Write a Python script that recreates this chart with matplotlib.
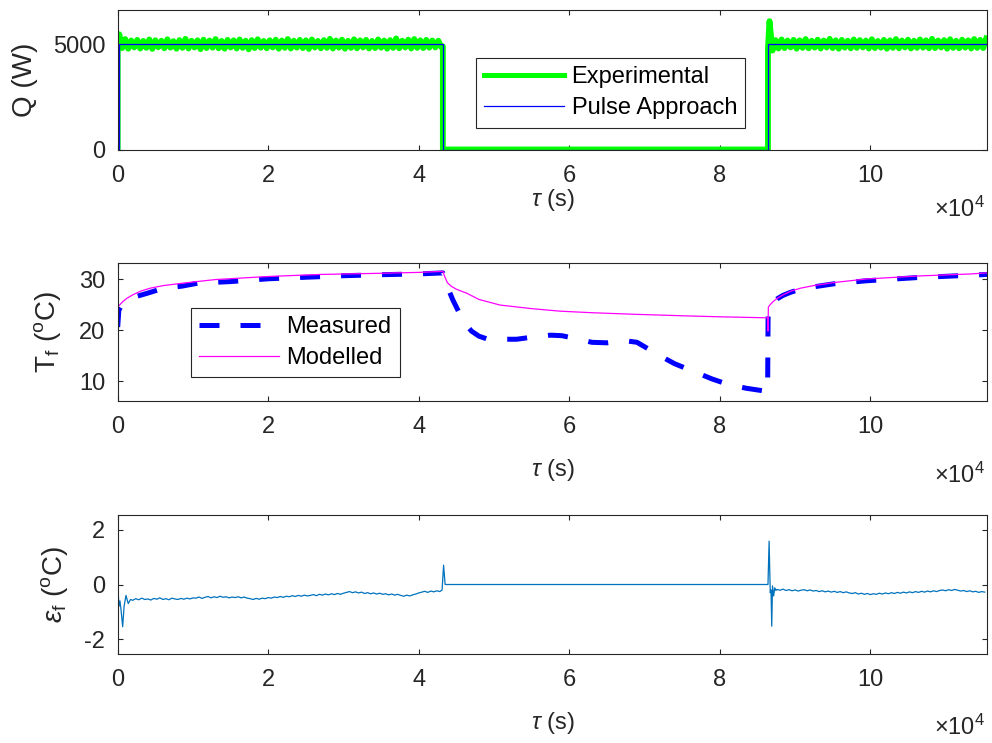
import numpy as np
import matplotlib
matplotlib.use('Agg')
import matplotlib.pyplot as plt

plt.rcParams['font.family'] = ['Liberation Sans', 'DejaVu Sans']
plt.rcParams['mathtext.fontset'] = 'custom'
plt.rcParams['mathtext.rm'] = 'Liberation Sans'
plt.rcParams['mathtext.it'] = 'Liberation Sans:italic'
plt.rcParams['mathtext.fallback'] = 'stixsans'
plt.rcParams['axes.unicode_minus'] = False

# ---------------- DATA ----------------
# Heat rate Q (W): experimental (noisy), pulse approach (ideal)
q_on1_t = np.arange(200, 43001, 400)
q_on1 = [5480, 4820, 5250, 4790, 5180, 4850, 5210, 4800, 5160, 4830,
         5230, 4780, 5190, 4860, 5170, 4810, 5240, 4840, 5150, 4790,
         5200, 4830, 5260, 4800, 5170, 4850, 5190, 4770, 5220, 4820,
         5180, 4840, 5250, 4810, 5160, 4790, 5210, 4850, 5190, 4800,
         5230, 4830, 5170, 4760, 5200, 4820, 5240, 4840, 5160, 4810,
         5190, 4850, 5220, 4790, 5180, 4830, 5250, 4800, 5170, 4840,
         5210, 4820, 5190, 4780, 5230, 4850, 5160, 4810, 5200, 4830,
         5260, 4800, 5180, 4840, 5220, 4790, 5170, 4830, 5240, 4810,
         5190, 4850, 5210, 4800, 5160, 4820, 5230, 4840, 5180, 4790,
         5200, 4830, 5280, 4810, 5170, 4850, 5220, 4800, 5250, 4830,
         5190, 4820, 5210, 4840, 5180, 4850, 5170, 4860]
q_on2_t = np.arange(86600, 115401, 400)
q_on2 = [6100, 4700, 5200, 4800, 5230, 4820, 5180, 4850, 5210, 4790,
         5190, 4830, 5250, 4810, 5170, 4840, 5220, 4800, 5180, 4850,
         5260, 4820, 5190, 4790, 5210, 4840, 5170, 4810, 5230, 4830,
         5200, 4850, 5180, 4800, 5240, 4820, 5160, 4840, 5210, 4790,
         5190, 4830, 5250, 4810, 5180, 4850, 5220, 4800, 5170, 4830,
         5230, 4840, 5190, 4810, 5260, 4820, 5180, 4850, 5200, 4790,
         5240, 4830, 5170, 4810, 5220, 4840, 5190, 4800, 5250, 4830,
         5210, 4820, 5280]
q_exp_t = np.concatenate([[0, 0], q_on1_t, [43200, 43200, 86400, 86400], q_on2_t])
q_exp = np.concatenate([[0, 4820], q_on1, [4900, 0, 0, 4800], q_on2])

q_pulse_t = [0, 200, 200, 43200, 43200, 86400, 86400, 115500]
q_pulse = [0, 0, 5000, 5000, 0, 0, 5000, 5000]

# Fluid temperature T_f (ºC)
t_mod = [0, 300, 700, 1200, 2000, 3000, 4300, 6000, 8700, 13000, 20000, 27000,
         34000, 40000, 43200,
         43500, 43800, 44300, 45000, 46400, 48000, 50800, 55000, 58800, 63000,
         68500, 75000, 80000, 86350,
         86400, 86450, 86700, 87100, 87600, 88400, 89400, 90700, 92400, 95100,
         99400, 106400, 113400, 115500]
T_mod = [24.5, 25.0, 25.6, 26.2, 26.9, 27.6, 28.2, 28.7, 29.2, 29.9, 30.5, 30.9,
         31.1, 31.3, 31.5,
         30.3, 29.3, 28.6, 28.0, 27.2, 26.0, 24.9, 24.2, 23.7, 23.4,
         23.1, 22.8, 22.6, 22.4,
         19.8, 24.5, 25.0, 25.6, 26.2, 26.9, 27.6, 28.2, 28.7, 29.3,
         30.0, 30.6, 31.0, 31.2]

t_meas = [0, 150, 400, 1000, 1600, 2500, 3900, 6100, 8500, 10700, 15000, 20000,
          25000, 30000, 35000, 40000, 43200,
          43500, 44000, 44500, 45000, 45500, 46000, 47000, 48000, 49000, 50800,
          53000, 55000, 57500, 59000, 61000, 63000, 65000, 67500, 69000, 72000,
          74000, 76500, 79000, 81000, 83500, 86200, 86350,
          86420, 86700, 87100, 87600, 88400, 89400, 90700, 92400, 95100, 99400,
          106400, 113400, 115500]
T_meas = [20.6, 23.9, 24.5, 25.3, 25.9, 26.6, 27.2, 28.2, 28.6, 29.2, 29.5, 30.05,
          30.35, 30.65, 30.85, 31.0, 31.2,
          29.4, 27.8, 26.0, 24.5, 23.0, 21.6, 19.8, 18.8, 18.3, 18.2,
          18.2, 18.6, 19.0, 18.9, 18.3, 17.6, 17.5, 17.9, 17.6, 15.0,
          13.4, 11.9, 10.4, 9.4, 8.6, 8.0, 7.8,
          24.2, 24.9, 25.5, 26.1, 26.8, 27.4, 28.0, 28.45, 29.05, 29.65,
          30.3, 30.75, 30.9]

# Error eps_f (ºC)
err_t = np.concatenate([
    [0, 170, 300, 450, 660, 850, 1100, 1400, 1700],
    np.arange(2000, 42801, 400),
    [43100, 43300, 43500, 86400, 86550, 86700, 86800, 86900, 87000, 87150, 87300, 87450],
    np.arange(87600, 115401, 400)])
err = np.concatenate([
    [0.0, -0.8, -0.6, -0.95, -1.55, -0.8, -0.4, -0.7, -0.55],
    [-0.58, -0.52, -0.56, -0.50, -0.55, -0.53, -0.57, -0.51, -0.54, -0.49, -0.55,
     -0.52, -0.56, -0.50, -0.53, -0.55, -0.51, -0.54, -0.50, -0.53, -0.49,
     -0.50, -0.46, -0.51, -0.47, -0.44, -0.49, -0.45, -0.48, -0.43, -0.47, -0.45,
     -0.49, -0.46,
     -0.48, -0.45, -0.49, -0.46, -0.50, -0.52, -0.55, -0.51, -0.54, -0.50, -0.52, -0.48,
     -0.50, -0.46, -0.48, -0.44, -0.47, -0.43, -0.45, -0.41, -0.44, -0.40, -0.43,
     -0.39, -0.42,
     -0.40, -0.37, -0.41, -0.36, -0.39, -0.35, -0.38, -0.34, -0.37, -0.33, -0.36, -0.32,
     -0.29, -0.26, -0.30, -0.27, -0.31, -0.28, -0.33, -0.30, -0.34, -0.31, -0.35,
     -0.32, -0.36,
     -0.34, -0.38, -0.35, -0.39, -0.36, -0.40, -0.43, -0.39, -0.42, -0.38, -0.35, -0.31,
     -0.28, -0.25, -0.29, -0.24, -0.27, -0.23, -0.26],
    [-0.2, 0.71, 0.0, 0.0, 1.59, -0.3, -0.2, -1.53, -0.05, -0.42, -0.12, -0.22],
    [-0.18, -0.21, -0.17, -0.22, -0.19, -0.23, -0.20, -0.24, -0.21, -0.19, -0.23,
     -0.20, -0.24, -0.22, -0.26, -0.23, -0.27, -0.24, -0.28, -0.25, -0.29, -0.26,
     -0.30, -0.27, -0.31, -0.33, -0.30, -0.35, -0.32, -0.36, -0.33, -0.37, -0.34,
     -0.36, -0.32, -0.35, -0.31, -0.34, -0.30, -0.33, -0.29, -0.32, -0.28, -0.31,
     -0.27, -0.30, -0.26, -0.29, -0.25, -0.28, -0.24, -0.27, -0.23, -0.26, -0.22,
     -0.20, -0.23, -0.19, -0.22, -0.18, -0.21, -0.24, -0.22, -0.26, -0.23, -0.27,
     -0.25, -0.29, -0.26, -0.28]])

x_ticks = [0, 20000, 40000, 60000, 80000, 100000]
x_ticklabels = ['0', '2', '4', '6', '8', '10']

# ---------------- FIGURE ----------------
W, H = 992, 743
fig = plt.figure(figsize=(W / 100, H / 100), dpi=100)


def axpos(l, t, r, b):
    return [l / W, 1 - b / H, (r - l) / W, (b - t) / H]


ax1 = fig.add_axes(axpos(117.7, 10, 987, 149.5))
ax2 = fig.add_axes(axpos(117.7, 262.7, 987, 401))
ax3 = fig.add_axes(axpos(117.7, 515, 987, 654))

FS = 17
YFS = 20
AXC = '#262626'

for ax in (ax1, ax2, ax3):
    for s in ax.spines.values():
        s.set_color(AXC)
        s.set_linewidth(0.8)
    ax.tick_params(direction='in', length=3.8, width=0.8, top=True, right=True,
                   labelsize=FS, colors=AXC)
    ax.tick_params(axis='x', pad=11)
    ax.tick_params(axis='y', pad=9)
    ax.set_xlim(0, 115500)
    ax.set_xticks(x_ticks)
    ax.set_xticklabels(x_ticklabels)
    ax.set_xlabel(r'$\tau$ (s)', fontsize=FS, color=AXC)

# Top panel
ax1.plot(q_exp_t, q_exp, color='#00FF00', lw=4.2, label='Experimental', solid_joinstyle='round')
ax1.plot(q_pulse_t, q_pulse, color='#0000FF', lw=0.9, label='Pulse Approach')
ax1.set_ylim(0, 6630)
ax1.set_yticks([0, 5000])
ax1.set_ylabel('Q (W)', fontsize=YFS, color=AXC)
leg1 = ax1.legend(loc='center', bbox_to_anchor=(0.567, 0.408), fontsize=FS,
                  fancybox=False, edgecolor=AXC, framealpha=1, handlelength=3.4,
                  handletextpad=0.3, borderpad=0.35, labelspacing=0.4)
leg1.get_frame().set_linewidth(0.8)
leg1.get_lines()[0].set_linewidth(3.6)

# Middle panel
ax2.plot(t_meas, T_meas, color='#0000FF', lw=3.6, dashes=(4, 4.2), label='Measured')
ax2.plot(t_mod, T_mod, color='#FF00FF', lw=0.9, label='Modelled')
ax2.set_ylim(6.1, 33.2)
ax2.set_yticks([10, 20, 30])
ax2.set_ylabel(r'T$_{\mathrm{f}}$ ($^{\mathrm{o}}$C)', fontsize=YFS, color=AXC)
leg2 = ax2.legend(loc='center', bbox_to_anchor=(0.204, 0.423), fontsize=FS,
                  fancybox=False, edgecolor=AXC, framealpha=1, handlelength=3.4,
                  handletextpad=0.3, borderpad=0.35, labelspacing=0.4)
leg2.get_frame().set_linewidth(0.8)

# Bottom panel
ax3.plot(err_t, err, color='#0072BD', lw=0.9)
ax3.set_ylim(-2.55, 2.55)
ax3.set_yticks([-2, 0, 2])
ax3.set_ylabel(r'$\epsilon_{\mathrm{f}}$ ($^{\mathrm{o}}$C)', fontsize=YFS, color=AXC)

# label positions
ax1.yaxis.set_label_coords(-0.0913, 0.5)
ax2.yaxis.set_label_coords(-0.0629, 0.5)
ax3.yaxis.set_label_coords(-0.0549, 0.5)
ax1.xaxis.set_label_coords(0.5, -0.269)
ax2.xaxis.set_label_coords(0.5, -0.405)
ax3.xaxis.set_label_coords(0.5, -0.403)

for ax, yb in ((ax1, -0.484), (ax2, -0.593), (ax3, -0.583)):
    ax.text(0.9977, yb, r'$\times$10$^{4}$', transform=ax.transAxes, ha='right',
            va='baseline', fontsize=FS, color=AXC)

fig.savefig('out.png', dpi=100)
